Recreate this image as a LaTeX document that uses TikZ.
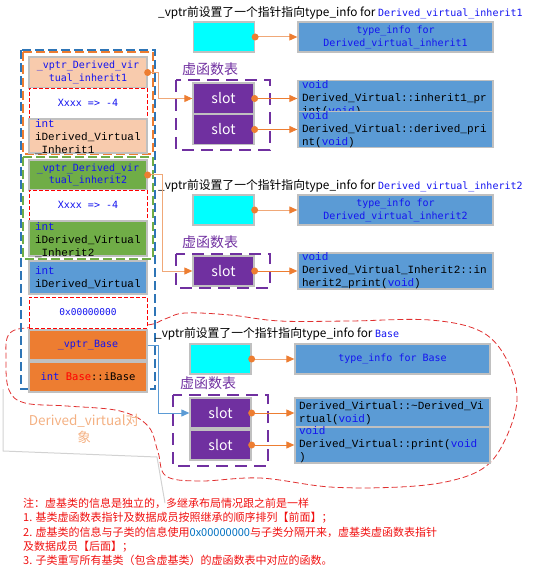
\documentclass[tikz,border=0pt]{standalone}
\usepackage{fontspec}
\setmainfont{Noto Sans CJK SC}
\newfontfamily\monoa{DejaVu Sans Mono}
\newfontfamily\monob{Liberation Mono}
\usetikzlibrary{arrows.meta}
\definecolor{peach}{HTML}{F8CBAD}
\definecolor{grn}{HTML}{70AD47}
\definecolor{bluebox}{HTML}{5B9BD5}
\definecolor{orng}{HTML}{ED7D31}
\definecolor{purp}{HTML}{7030A0}
\definecolor{cyanbox}{HTML}{00FFFF}
\definecolor{bgray}{HTML}{C0C0C0}
\definecolor{codeblue}{HTML}{1414F0}
\definecolor{peachline}{HTML}{F0A878}
\definecolor{dblue}{HTML}{2E75B6}
\definecolor{notered}{HTML}{F01010}
\definecolor{noteblue}{HTML}{0070C0}
\definecolor{labelor}{HTML}{F4B183}
\definecolor{cloudred}{HTML}{E03030}
\definecolor{lineblue}{HTML}{5B9BD5}
\newcommand{\cb}[1]{{\color{codeblue}#1}}
\tikzset{
  cellbox/.style={draw=bgray, line width=1.3pt, minimum width=118pt, inner sep=0pt, align=center},
  dashcell/.style={draw=red, dash pattern=on 4pt off 2pt, line width=0.8pt, fill=white, minimum width=118pt, inner sep=0pt, align=center},
  codeA/.style={font=\monoa\fontsize{10}{12.5}\selectfont, text=codeblue},
  codeB/.style={font=\monob\fontsize{11}{13}\selectfont, text=black, text width=106pt, align=left},
  funcbox/.style={draw=bgray, line width=1.3pt, fill=bluebox, minimum width=195pt, inner sep=0pt, text width=187pt, align=left, font=\monob\fontsize{11}{13}\selectfont},
  tibox/.style={draw=bgray, line width=1.3pt, fill=bluebox, minimum width=195pt, minimum height=30pt, inner sep=0pt, align=center, font=\monoa\fontsize{10}{13}\selectfont, text=codeblue},
  cyanrect/.style={draw=bgray, line width=1.3pt, fill=cyanbox, minimum width=61pt, minimum height=30pt, inner sep=0pt},
  slotbox/.style={draw=bgray, line width=1.3pt, fill=purp, minimum width=61pt, inner sep=0pt, text=white, font=\fontsize{14}{16}\selectfont},
  vtlabel/.style={text=purp, font=\fontsize{14}{16}\selectfont, inner sep=0pt},
  lbl/.style={font=\fontsize{11.8}{13}\selectfont, inner sep=0pt, anchor=west},
  vtdash/.style={draw=purp, line width=1.8pt, dash pattern=on 12pt off 7pt},
  grpdash/.style={line width=1.8pt, dash pattern=on 9pt off 4pt},
  peachconn/.style={draw=peachline, line width=1pt, -{Triangle[length=8pt,width=7pt,color=orng]}},
  orconn/.style={draw=orng, line width=1pt, -{Triangle[length=8pt,width=7pt,color=orng]}},
  blueconn/.style={draw=lineblue, line width=1pt, -{Triangle[length=8pt,width=7pt,color=lineblue]}},
  dotor/.style={fill=orng}
}
\begin{document}
\begin{tikzpicture}[x=1pt,y=-1pt]
\useasboundingbox (0,0) rectangle (553,569);

% cloud around virtual base part
\draw[cloudred, line width=0.8pt, dash pattern=on 6pt off 3pt]
  plot[smooth cycle, tension=0.6] coordinates {
  (10,333) (40,327) (100,325) (147,325) (165,319) (185,313) (230,315) (280,321)
  (350,321) (430,320) (482,332) (508,362) (517,400) (505,440) (485,467)
  (450,481) (400,487) (330,487) (260,478) (200,481) (166,476) (158,452)
  (148,426) (120,411) (67,406) (25,403) (9,390) (6,360)};

% gray callout
\draw[gray!35, line width=1pt] (3,389) -- (3,451) -- (157,457) -- (165,503);
\node[text=labelor, font=\fontsize{13.5}{17}\selectfont, align=center, inner sep=0pt] (objlbl) at (84,429) {Derived\_virtual对\\象};

% group dashed boxes
\draw[grpdash, draw=dblue] (21,50) rectangle (155,389);
\draw[grpdash, draw=orng] (23,52) rectangle (153,154);
\draw[grpdash, draw=grn] (23,157) rectangle (153,259);

% memory cells
\node[cellbox, fill=peach, minimum height=31pt, codeA] (c1) at (88,72.5) {\_vptr\_Derived\_vir\\tual\_inherit1};
\node[dashcell, minimum height=30pt, codeA] (c2) at (88,103) {Xxxx => -4};
\node[cellbox, fill=peach, minimum height=34pt] (c3) at (88,136) {};
\node[codeB] (c3t) at (88,137) {\cb{int}\\iDerived\_Virtual\\\_Inherit1};
\node[cellbox, fill=grn, minimum height=30pt, codeA] (c4) at (88,175) {\_vptr\_Derived\_vir\\tual\_inherit2};
\node[dashcell, minimum height=30pt, codeA] (c5) at (88,205) {Xxxx => -4};
\node[cellbox, fill=grn, minimum height=35pt] (c6) at (88,238.5) {};
\node[codeB] (c6t) at (88,240) {\cb{int}\\iDerived\_Virtual\\\_Inherit2};
\node[cellbox, fill=bluebox, minimum height=33pt, codeB] (c7) at (88,277.5) {\cb{int}\\iDerived\_Virtual};
\node[dashcell, minimum height=31pt, codeA, font=\monoa\fontsize{9.5}{12}\selectfont] (c8) at (88,312.5) {0x00000000};
\node[cellbox, fill=orng, minimum height=30pt, codeA] (c9) at (88,345) {\_vptr\_Base};
\node[cellbox, fill=orng, minimum height=30pt, codeA, font=\monoa\fontsize{10.5}{12}\selectfont] (c10) at (88,377) {int {\color{red}Base}{\color{black}::iBase}};

% ---------- section 1 ----------
\node[lbl] (l1) at (158,13) {\_vptr前设置了一个指针指向type\_info for {\monoa\fontsize{10}{12}\selectfont\color{codeblue}Derived\_virtual\_inherit1}};
\node[cyanrect] (cy1) at (224,37) {};
\node[tibox] (ti1) at (395.5,37) {type\_info for\\Derived\_virtual\_inherit1};
\node[vtlabel] (vt1) at (210,69) {虚函数表};
\draw[vtdash] (176,80) rectangle (270,150);
\node[slotbox, minimum height=31pt] (s1a) at (223.5,98.5) {slot};
\node[slotbox, minimum height=30pt] (s1b) at (223.5,129.5) {slot};
\node[funcbox, minimum height=31pt] (f1a) at (395.5,98.5) {\cb{void}\\Derived\_Virtual::inherit1\_pr\\int(\cb{void})};
\node[funcbox, minimum height=30pt] (f1b) at (395.5,129.5) {\cb{void}\\Derived\_Virtual::derived\_pri\\nt(\cb{void})};

% ---------- section 2 ----------
\node[lbl] (l2) at (158,186) {\_vptr前设置了一个指针指向type\_info for {\monoa\fontsize{10}{12}\selectfont\color{codeblue}Derived\_virtual\_inherit2}};
\node[cyanrect] (cy2) at (223.5,210) {};
\node[tibox] (ti2) at (395.5,210) {type\_info for\\Derived\_virtual\_inherit2};
\node[vtlabel] (vt2) at (210,242) {虚函数表};
\draw[vtdash] (176,254) rectangle (270,288);
\node[slotbox, minimum height=30pt] (s2) at (223.5,271) {slot};
\node[funcbox, minimum height=30pt] (f2) at (395.5,271) {\cb{void}\\Derived\_Virtual\_Inherit2::in\\herit2\_print(\cb{void})};

% ---------- section 3 ----------
\node[lbl] (l3) at (155,334) {\_vptr前设置了一个指针指向type\_info for {\monoa\fontsize{10}{12}\selectfont\color{codeblue}Base}};
\node[cyanrect] (cy3) at (220.5,359) {};
\node[tibox] (ti3) at (392.5,359) {type\_info for Base};
\node[vtlabel] (vt3) at (208,383) {虚函数表};
\draw[vtdash] (173,395) rectangle (268,466);
\node[slotbox, minimum height=30pt] (s3a) at (220.5,413) {slot};
\node[slotbox, minimum height=30pt] (s3b) at (220.5,445) {slot};
\node[funcbox, minimum height=30pt] (f3a) at (392.5,413) {Derived\_Virtual::\textasciitilde Derived\_Vi\\rtual(\cb{void})};
\node[funcbox, minimum height=30pt] (f3b) at (392.5,445) {\cb{void}\\Derived\_Virtual::print(\cb{void}\\)};

% ---------- connectors ----------
\draw[peachconn] (c1.east) -- ++(11pt,0) |- (s1a.west);
\fill[dotor] (c1.east) circle (3.5pt);
\draw[peachconn] (c4.east) -- ++(15pt,0) |- (s2.west);
\fill[dotor] (c4.east) circle (3.5pt);
\draw[blueconn] (c9.east) -- ++(11pt,0) |- (s3a.west);

\foreach \a/\b in {cy1/ti1, cy2/ti2, cy3/ti3} {
  \draw[peachconn] (\a.east) -- (\b.west);
  \fill[dotor] (\a.east) circle (3.5pt);
}
\foreach \a/\b in {s1a/f1a, s1b/f1b, s2/f2, s3a/f3a, s3b/f3b} {
  \draw[orconn] (\a.east) -- (\b.west);
  \fill[dotor] (\a.east) circle (3.5pt);
}

% ---------- note ----------
\node[anchor=north west, align=left, inner sep=0pt, text=notered, font=\fontsize{11}{14.3}\selectfont] (note) at (23,498)
{注：虚基类的信息是独立的，多继承布局情况跟之前是一样\\
1. 基类虚函数表指针及数据成员按照继承的顺序排列【前面】；\\
2. 虚基类的信息与子类的信息使用{\color{noteblue}0x00000000}与子类分隔开来，虚基类虚函数表指针\\
及数据成员【后面】；\\
3. 子类重写所有基类（包含虚基类）的虚函数表中对应的函数。};
\end{tikzpicture}
\end{document}
